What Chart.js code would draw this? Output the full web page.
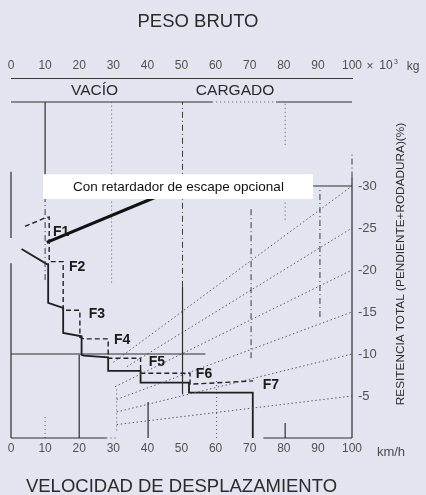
<!DOCTYPE html>
<html lang="es">
<head>
<meta charset="utf-8">
<title>Retardador</title>
<script src="https://cdn.jsdelivr.net/npm/chart.js@4.4.1/dist/chart.umd.min.js"></script>
<style>
    html, body { margin: 0; padding: 0; background: #e2e4f0; }
    #wrap { width: 426px; height: 495px; position: relative; }
</style>
</head>
<body>
<div id="wrap"><canvas id="retarderChart"></canvas></div>
<script>
// tick labels
const speedTicks = [0, 10, 20, 30, 40, 50, 60, 70, 80, 90, 100];
const weightTicks = [0, 10, 20, 30, 40, 50, 60, 70, 80, 90, 100];
const resistanceTicks = [5, 10, 15, 20, 25, 30];

// texts
const chartTitle = 'PESO BRUTO';
const speedTitle = 'VELOCIDAD DE DESPLAZAMIENTO';
const resistanceTitle = 'RESITENCIA TOTAL (PENDIENTE+RODADURA)(%)';
const noteText = 'Con retardador de escape opcional';
const loadLabels = ['VACÍO', 'CARGADO'];
const loadLabelWeight = [24.5, 65.7];

// gear labels (speed km/h, resistance %)
const gearLabels = ['F1', 'F2', 'F3', 'F4', 'F5', 'F6', 'F7'];
const gearLabelSpeed = [14.7, 19.4, 25.2, 32.6, 42.8, 56.6, 76.2];
const gearLabelResistance = [24.5, 20.3, 14.7, 11.6, 9.0, 7.6, 6.3];

// retarder curve (solid steps)
const retarderSpeed = [3.1, 10.5, 10.9, 10.9, 15.3, 15.3, 20.7, 20.7, 21.4, 28.5, 28.5, 38.0, 38.0, 52.2, 52.2, 70.9, 70.9];
const retarderResistance = [22.5, 20.7, 20.7, 16.1, 15.5, 12.5, 12.1, 9.9, 9.8, 9.6, 8.0, 8.0, 6.6, 6.6, 5.4, 5.4, 0];

// second curve (dashed steps)
const dashedSpeed = [4.1, 10.0, 11.2, 11.2, 15.3, 15.3, 20.2, 20.2, 21.4, 28.5, 28.5, 38.0, 38.0, 52.5, 52.5, 71.0];
const dashedResistance = [25.2, 26.2, 26.3, 21.0, 21.0, 15.2, 15.2, 12.0, 11.8, 11.8, 9.5, 9.5, 7.7, 7.7, 6.4, 6.8];

// optional exhaust retarder (thick line)
const exhaustSpeed = [10.5, 42.0];
const exhaustResistance = [23.3, 28.6];

// grade lines, start point -> right axis value at 100 km/h
const gradeStartSpeed = [31.0, 31.0, 31.0, 30.5, 34.0, 30.0];
const gradeStartResistance = [1.6, 3.1, 4.6, 6.1, 8.5, 9.0];
const gradeEndResistance = [5, 10, 15, 20, 25, 30];

// reference lines [speed1, res1, speed2, res2]
const solidGuides = [
    [0, 0, 0, 20.8], [0, 23.8, 0, 31.7], [10, 28.6, 10, 40], [20, 0, 20, 9.9],
    [40.2, 0, 40.2, 4.3], [50.3, 5.2, 50.3, 18], [80.4, 0, 80.4, 1.8], [100, 0, 100, 31],
    [0, 10, 57, 10], [0, 40, 59, 40], [77.7, 40, 100, 40], [88.6, 30, 100, 30],
    [0, 0, 28, 0], [74, 0, 100, 0]
];
const dashedGuides = [
    [10, 18.8, 10, 28.6], [50.3, 18, 50.3, 40], [70.4, 9.5, 70.4, 27.5],
    [90.6, 14.4, 90.6, 29.8], [100, 31, 100, 34]
];
const dottedGuides = [
    [29.5, 18.5, 29.5, 40], [80.4, 34.9, 80.4, 40], [80.4, 26, 80.4, 28.1],
    [10, 0, 10, 2.5], [28, 0, 31, 0], [59, 40, 77.7, 40], [31, 0.9, 31, 6.1],
    [60.3, 0, 60.3, 6.9]
];

const fontFamily = "'Liberation Sans', Arial, sans-serif";

function line(xs, ys, style) {
    return Object.assign({
        data: xs.map((v, i) => ({ x: v, y: ys[i] })),
        showLine: true,
        pointRadius: 0,
        fill: false,
        tension: 0,
        clip: false
    }, style);
}

const solidStyle = { borderColor: '#2e2e2e', borderWidth: 1.2 };
const dashDotStyle = { borderColor: '#3a3a3a', borderWidth: 1, borderDash: [6, 3, 1, 3] };
const dotStyle = { borderColor: '#555', borderWidth: 1, borderDash: [1, 3] };
const gradeStyle = { borderColor: '#5a5a5a', borderWidth: 1, borderDash: [1.5, 2.5] };

const datasets = [];
solidGuides.forEach(s => datasets.push(line([s[0], s[2]], [s[1], s[3]], solidStyle)));
dashedGuides.forEach(s => datasets.push(line([s[0], s[2]], [s[1], s[3]], dashDotStyle)));
dottedGuides.forEach(s => datasets.push(line([s[0], s[2]], [s[1], s[3]], dotStyle)));
gradeEndResistance.forEach((g, i) => {
    datasets.push(line([gradeStartSpeed[i], 100], [gradeStartResistance[i], g], gradeStyle));
});
datasets.push(line(dashedSpeed, dashedResistance, { borderColor: '#222', borderWidth: 1.4, borderDash: [5, 3] }));
datasets.push(line(retarderSpeed, retarderResistance, { borderColor: '#1e1e1e', borderWidth: 1.8 }));
datasets.push(line(exhaustSpeed, exhaustResistance, { borderColor: '#111', borderWidth: 3 }));

const chartText = {
    id: 'chartText',
    afterDatasetsDraw(chart) {
        const { ctx, scales } = chart;
        const x = scales.x, y = scales.y, xTop = scales.xTop;
        ctx.save();

        // white note box over the exhaust retarder line
        const bx1 = x.getPixelForValue(9.4), bx2 = x.getPixelForValue(88.6);
        const by1 = y.getPixelForValue(31.4), by2 = y.getPixelForValue(28.45);
        ctx.fillStyle = '#ffffff';
        ctx.fillRect(bx1, by1, bx2 - bx1, by2 - by1);
        ctx.fillStyle = '#111';
        ctx.font = '13.5px ' + fontFamily;
        ctx.textAlign = 'center';
        ctx.textBaseline = 'middle';
        ctx.fillText(noteText, x.getPixelForValue(49.1), (by1 + by2) / 2 + 0.5);

        // gear labels
        ctx.font = 'bold 14px ' + fontFamily;
        ctx.fillStyle = '#1a1a1a';
        gearLabels.forEach((g, i) => {
            ctx.fillText(g, x.getPixelForValue(gearLabelSpeed[i]), y.getPixelForValue(gearLabelResistance[i]));
        });

        // empty / loaded
        ctx.font = '15.5px ' + fontFamily;
        ctx.fillStyle = '#2a2a2a';
        const midY = (y.top + y.getPixelForValue(40)) / 2 + 1;
        loadLabels.forEach((t, i) => {
            ctx.fillText(t, xTop.getPixelForValue(loadLabelWeight[i]), midY);
        });
        ctx.restore();
    },
    afterDraw(chart) {
        const { ctx, chartArea } = chart;
        ctx.save();
        ctx.fillStyle = '#2a2a2a';
        ctx.textAlign = 'center';
        ctx.textBaseline = 'middle';
        ctx.font = '18.5px ' + fontFamily;
        ctx.fillText(chartTitle, 198, 22);
        ctx.fillText(speedTitle, (chartArea.left + chartArea.right) / 2, 487);

        // units
        ctx.fillStyle = '#4a4a4a';
        ctx.font = '12px ' + fontFamily;
        ctx.fillText('×', 370, 67);
        ctx.fillText('10', 386, 66);
        ctx.font = '7px ' + fontFamily;
        ctx.fillText('3', 396, 62);
        ctx.font = '12px ' + fontFamily;
        ctx.fillText('kg', 413, 67);
        ctx.font = '13px ' + fontFamily;
        ctx.fillText('km/h', 391, 452);

        // right axis title
        ctx.fillStyle = '#2a2a2a';
        ctx.font = '11.8px ' + fontFamily;
        ctx.translate(401, 264);
        ctx.rotate(-Math.PI / 2);
        ctx.fillText(resistanceTitle, 0, 0);
        ctx.restore();
    }
};

const tickFont = { family: fontFamily, size: 12 };

new Chart(document.getElementById('retarderChart'), {
    type: 'scatter',
    data: { datasets: datasets },
    options: {
        responsive: true,
        maintainAspectRatio: false,
        animation: false,
        events: [],
        layout: { padding: { left: 11 } },
        plugins: {
            legend: { display: false },
            tooltip: { enabled: false }
        },
        scales: {
            x: {
                type: 'linear',
                position: 'bottom',
                min: 0,
                max: 100,
                afterBuildTicks: s => { s.ticks = speedTicks.map(v => ({ value: v })); },
                afterFit: s => { s.height = 57; },
                border: { display: false },
                grid: { display: false, drawTicks: false },
                ticks: { padding: 3, font: tickFont, color: '#505050' }
            },
            xTop: {
                type: 'linear',
                axis: 'x',
                position: 'top',
                min: 0,
                max: 100,
                afterBuildTicks: s => { s.ticks = weightTicks.map(v => ({ value: v })); },
                afterFit: s => { s.height = 78; },
                border: { display: true, color: '#3a3a3a', width: 1 },
                grid: { display: false, drawTicks: false },
                ticks: { padding: 5, font: tickFont, color: '#505050' }
            },
            y: {
                type: 'linear',
                position: 'right',
                min: 0,
                max: 42.857,
                afterBuildTicks: s => { s.ticks = resistanceTicks.map(v => ({ value: v })); },
                afterFit: s => { s.width = 74; },
                border: { display: false },
                grid: { display: false, drawTicks: false },
                ticks: {
                    padding: 6,
                    font: { family: fontFamily, size: 13 },
                    color: '#505050',
                    callback: v => '-' + v
                }
            }
        }
    },
    plugins: [chartText]
});
</script>
</body>
</html>
